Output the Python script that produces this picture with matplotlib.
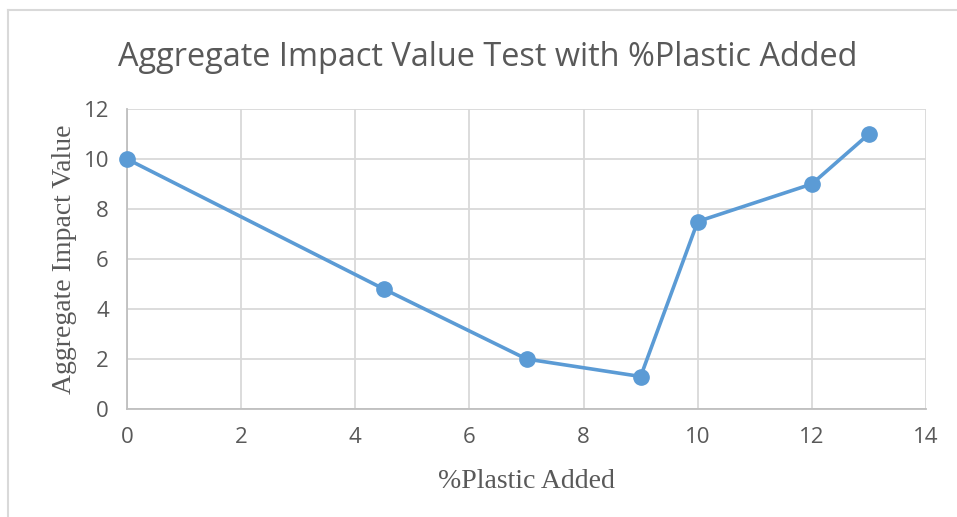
import matplotlib.pyplot as plt
from matplotlib.lines import Line2D

plastic = [0, 4.5, 7, 9, 10, 12, 13]
impact = [10, 4.8, 2, 1.3, 7.5, 9, 11]
xticks = [0, 2, 4, 6, 8, 10, 12, 14]
yticks = [0, 2, 4, 6, 8, 10, 12]

txt = '#595959'
blue = '#5B9BD5'

fig = plt.figure(figsize=(9.57, 5.17), dpi=100)
ax = fig.add_axes([127/957, 1-409/517, 799/957, 300/517])

ax.plot(plastic, impact, color=blue, lw=2.6, marker='o', ms=11, zorder=3, clip_on=False)

ax.set_xlim(0, 14)
ax.set_ylim(0, 12)
ax.set_xticks(xticks)
ax.set_yticks(yticks)
ax.grid(True, color='#D9D9D9', lw=1.3)
ax.set_axisbelow(True)
for s in ['top', 'right']:
    ax.spines[s].set_visible(False)
for s in ['left', 'bottom']:
    ax.spines[s].set_color('#BFBFBF')
    ax.spines[s].set_linewidth(1.3)
ax.tick_params(length=0, pad=13, labelsize=16, labelcolor=txt)
for lab in ax.get_xticklabels() + ax.get_yticklabels():
    lab.set_family('Open Sans')

ax.set_xlabel('%Plastic Added', family='Liberation Serif', fontsize=20, color=txt)
ax.set_ylabel('Aggregate Impact Value', family='Liberation Serif', fontsize=20, color=txt)
ax.xaxis.set_label_coords(0.5, -0.2)
ax.yaxis.set_label_coords(-0.063, 0.5)
fig.text(488/957, 1-57/517, 'Aggregate Impact Value Test with %Plastic Added',
         family='Open Sans', fontsize=23.4, color=txt, ha='center', va='center')

# chart frame (top and left edges visible)
fig.add_artist(Line2D([8/957, 1], [1-10/517]*2, transform=fig.transFigure, color='#D9D9D9', lw=1.5))
fig.add_artist(Line2D([8/957]*2, [0, 1-10/517], transform=fig.transFigure, color='#D9D9D9', lw=1.5))

fig.savefig('out.png', dpi=100, facecolor='white')
